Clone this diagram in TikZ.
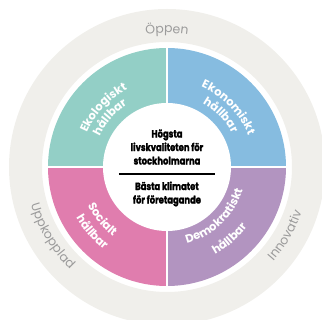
\documentclass[tikz,border=0pt]{standalone}
\usepackage{fontspec}
\setmainfont{Poppins}
\newfontfamily\goalfont[FakeStretch=0.8, BoldFeatures={FakeBold=1.6}]{Poppins}
\usetikzlibrary{decorations.text}

\definecolor{ringgray}{HTML}{F0EFEB}
\definecolor{ringtext}{HTML}{9B9B9B}
\definecolor{ekoteal}{HTML}{93CFC6}
\definecolor{ekoblue}{HTML}{86BCE0}
\definecolor{socpink}{HTML}{E07DAE}
\definecolor{dempurple}{HTML}{B294C0}

\begin{document}
\begin{tikzpicture}[%
    x=1pt, y=1pt,
    ring text/.style={decorate, decoration={text along path, text align=center,
        text={|\fontsize{12.5}{12.5}\selectfont\color{ringtext}|#1}}},
    quad text/.style={decorate, decoration={text along path, text align=center,
        text={|\fontsize{11.5}{11.5}\bfseries\color{white}|#1}}},
    goal/.style={align=center, font=\goalfont\fontsize{10.5}{13.5}\bfseries\selectfont}
    ]

    \clip (-167,-153) rectangle (155,167);

    % outer ring
    \fill[ringgray, even odd rule] (0,0) circle[radius=158] (0,0) circle[radius=125];

    % quadrants
    \fill[ekoteal] (0,0) -- (90:119) arc[start angle=90, end angle=180, radius=119] -- cycle;
    \fill[ekoblue] (0,0) -- (0:119) arc[start angle=0, end angle=90, radius=119] -- cycle;
    \fill[socpink] (0,0) -- (180:119) arc[start angle=180, end angle=270, radius=119] -- cycle;
    \fill[dempurple] (0,0) -- (270:119) arc[start angle=270, end angle=360, radius=119] -- cycle;
    \draw[white, line width=2.2] (-120,0) -- (120,0);
    \draw[white, line width=2.2] (0,-120) -- (0,120);
    \fill[white] (0,0) circle[radius=64];

    % ring labels
    \path[ring text=Öppen] (180:134) arc[start angle=180, end angle=0, radius=134];
    \path[ring text=Innovativ] (-120:142) arc[start angle=-120, end angle=60, radius=142];
    \path[ring text=Uppkopplad] (121:141) arc[start angle=121, end angle=301, radius=141];

    % quadrant labels
    \path[quad text=Ekologiskt] (182:87) arc[start angle=182, end angle=92, radius=87];
    \path[quad text=hållbar] (184:74) arc[start angle=184, end angle=94, radius=74];
    \path[quad text=Ekonomiskt] (89:87) arc[start angle=89, end angle=-1, radius=87];
    \path[quad text=hållbar] (89:73) arc[start angle=89, end angle=-1, radius=73];
    \path[quad text=Socialt] (174:88) arc[start angle=174, end angle=264, radius=88];
    \path[quad text=hållbar] (176:104) arc[start angle=176, end angle=266, radius=104];
    \path[quad text=Demokratiskt] (-91:79) arc[start angle=-91, end angle=-1, radius=79];
    \path[quad text=hållbar] (-94:100) arc[start angle=-94, end angle=-4, radius=100];

    % centre
    \node[goal] (life) at (0,20) {Högsta\\livskvaliteten för\\stockholmarna};
    \node[goal] (climate) at (0,-27) {Bästa klimatet\\för företagande};
    \coordinate (rule west) at (-48,-7);
    \coordinate (rule east) at (48,-7);
    \draw[line width=1.8] (rule west) -- (rule east);

\end{tikzpicture}
\end{document}
